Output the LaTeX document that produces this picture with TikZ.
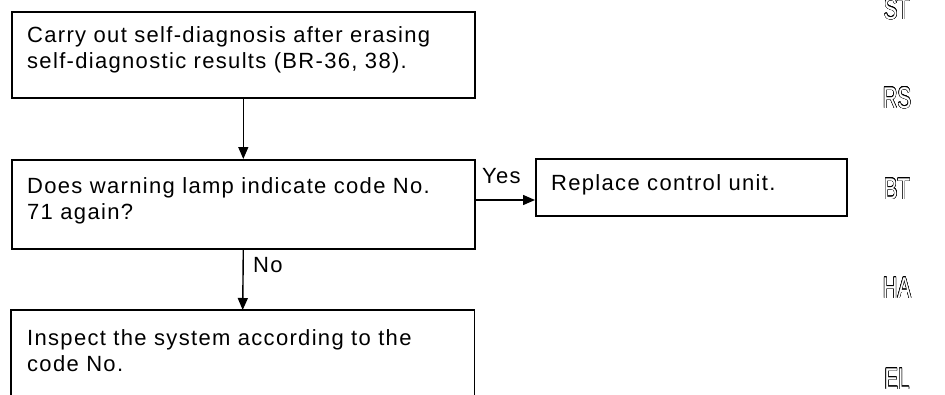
\documentclass[tikz,border=0pt]{standalone}
\usepackage{fontspec}
\setmainfont{Liberation Sans}[LetterSpace=6]
\newfontfamily\sidefont{Liberation Sans}
\usepackage{contour}
\contourlength{0.6pt}
\usetikzlibrary{arrows.meta}
\begin{document}
\begin{tikzpicture}[x=1pt,y=1pt,
  box/.style={draw, line width=1.6pt, anchor=north west, inner sep=0pt},
  txt/.style={anchor=north west, inner sep=0pt, align=left,
    font=\fontsize{22}{26}\selectfont},
  lbl/.style={anchor=base west, inner sep=0pt, font=\fontsize{22}{26}\selectfont},
  arr/.style={line width=1.4pt, -{Triangle[length=12pt,width=10pt]}},
  side/.style={inner sep=0pt, font=\sidefont\fontsize{30}{30}\selectfont,
    xscale=0.68, transform shape}]
\useasboundingbox (0,0) rectangle (945,-394);

% boxes
\node[box, minimum width=463, minimum height=86] (b1) at (11,-11) {};
\node[box, minimum width=463, minimum height=89] (b2) at (11,-159) {};
\node[box, minimum width=311, minimum height=57] (b3) at (535,-158) {};
\node[anchor=north west, inner sep=0pt, minimum width=463, minimum height=90] (b4) at (11,-310) {};
\draw[line width=1.6pt] (b4.south west) -- (b4.north west) -- (b4.north east) -- (b4.south east);

% texts
\node[txt] (t1) at (27,-26.5) {Carry out self-diagnosis after erasing\\self-diagnostic results (BR-36, 38).};
\node[txt] (t2) at (27,-177.5) {Does warning lamp indicate code No.\\71 again?};
\node[txt] (t3) at (551,-174.5) {Replace control unit.};
\node[txt] (t4) at (27,-329.5) {Inspect the system according to the\\code No.};

% connectors
\draw[arr] (b1.south) -- (b2.north);
\draw[arr] (b2.south) -- (b4.north);
\draw[arr] (b2.east |- 0,-200) -- (b3.west |- 0,-200);

% labels
\node[lbl] (yes) at (482,-183) {Yes};
\node[lbl] (no) at (253,-272) {No};

% side tabs
\node[side] (sST) at (897,-9) {\contour{black}{\textcolor{white}{ST}}};
\node[side] (sRS) at (897,-98) {\contour{black}{\textcolor{white}{RS}}};
\node[side] (sBT) at (897,-189) {\contour{black}{\textcolor{white}{BT}}};
\node[side] (sHA) at (897,-288) {\contour{black}{\textcolor{white}{HA}}};
\node[side] (sEL) at (897,-379) {\contour{black}{\textcolor{white}{EL}}};
\end{tikzpicture}
\end{document}
